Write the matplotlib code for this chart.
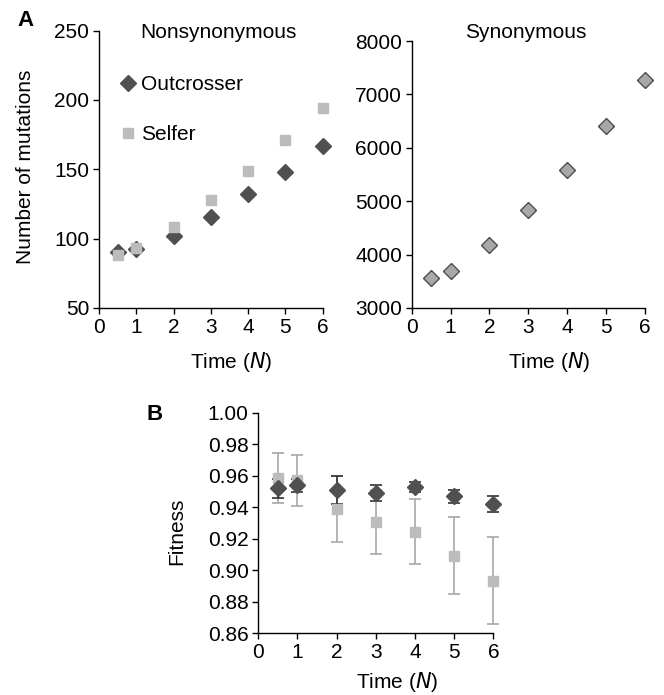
import numpy as np
import matplotlib.pyplot as plt

plt.rcParams['font.family'] = ['Liberation Sans', 'DejaVu Sans']

# Data
time = [0.5, 1, 2, 3, 4, 5, 6]
nonsyn_out = [90.4, 92.5, 102, 115.6, 132, 148, 167]
nonsyn_self = [88.5, 93, 108, 128, 149, 171, 194]
syn_out = [3560, 3697, 4171, 4831, 5590, 6412, 7265]
syn_self = [3560, 3697, 4171, 4831, 5590, 6412, 7265]
fit_out = [0.952, 0.954, 0.951, 0.949, 0.953, 0.947, 0.942]
fit_out_err = [0.006, 0.004, 0.009, 0.005, 0.003, 0.004, 0.005]
fit_self = [0.9586, 0.957, 0.9387, 0.9305, 0.9245, 0.9093, 0.8934]
fit_self_err = [0.016, 0.016, 0.021, 0.0205, 0.0205, 0.0245, 0.0278]

dark = '#505050'
light = '#bcbcbc'
fs = 15

fig = plt.figure(figsize=(6.64, 6.95), dpi=100)
ax1 = fig.add_axes([0.149, 0.557, 0.337, 0.399])
ax2 = fig.add_axes([0.620, 0.557, 0.351, 0.384])
ax3 = fig.add_axes([0.389, 0.089, 0.354, 0.317])

def style(ax, xlab_x=0.59, xlab_y=-0.195):
    for s in ['top', 'right']:
        ax.spines[s].set_visible(False)
    for s in ['left', 'bottom']:
        ax.spines[s].set_color('black')
        ax.spines[s].set_linewidth(1.0)
    ax.tick_params(direction='out', length=4, width=1, labelsize=fs, pad=3)
    ax.set_xlim(0, 6)
    ax.set_xticks(range(7))
    ax.set_xlabel('Time ($\\it{N}$)', fontsize=fs, va='center')
    ax.xaxis.set_label_coords(xlab_x, xlab_y)

# Nonsynonymous
ax1.plot(time, nonsyn_out, 'D', color=dark, ms=8.5, ls='none', label='Outcrosser', clip_on=False)
ax1.plot(time, nonsyn_self, 's', color=light, ms=6.5, ls='none', label='Selfer', clip_on=False)
ax1.set_ylim(50, 250)
ax1.set_yticks([50, 100, 150, 200, 250])
ax1.set_ylabel('Number of mutations', fontsize=fs, va='center')
ax1.yaxis.set_label_coords(-0.33, 0.51)
ax1.text(0.536, 0.993, 'Nonsynonymous', transform=ax1.transAxes, fontsize=fs,
         ha='center', va='center')
ax1.legend(loc='upper left', bbox_to_anchor=(0.085, 0.84), frameon=False, fontsize=fs,
           handletextpad=0.1, labelspacing=1.5, handlelength=1.0, borderaxespad=0,
           borderpad=0)
style(ax1, 0.59, -0.195)

# Synonymous
ax2.plot(time, syn_out, 'D', color=dark, ms=8.5, ls='none', clip_on=False)
ax2.plot(time, syn_self, 'D', color='#a8a8a8', ms=6.5, ls='none', clip_on=False)
ax2.set_ylim(3000, 8000)
ax2.set_yticks(range(3000, 8001, 1000))
ax2.text(0.49, 1.03, 'Synonymous', transform=ax2.transAxes, fontsize=fs,
         ha='center', va='center')
style(ax2, 0.59, -0.202)

# Fitness
ax3.errorbar(time, fit_self, yerr=fit_self_err, fmt='s', color=light, ms=6.5,
             ecolor='#a8a8a8', elinewidth=1.2, capsize=4, capthick=1.2, clip_on=False)
ax3.errorbar(time, fit_out, yerr=fit_out_err, fmt='D', color=dark, ms=8.5,
             ecolor='#333333', elinewidth=1.2, capsize=4, capthick=1.2, clip_on=False)
ax3.set_ylim(0.86, 1.00)
ax3.set_yticks(np.arange(0.86, 1.001, 0.02))
ax3.set_yticklabels(['%.2f' % v for v in np.arange(0.86, 1.001, 0.02)])
ax3.set_ylabel('Fitness', fontsize=fs, va='center')
ax3.yaxis.set_label_coords(-0.345, 0.46)
style(ax3, 0.59, -0.22)

fig.text(0.027, 0.971, 'A', fontsize=16, fontweight='bold', va='center', ha='left')
fig.text(0.221, 0.403, 'B', fontsize=16, fontweight='bold', va='center', ha='left')

fig.savefig('out.png', dpi=100)
